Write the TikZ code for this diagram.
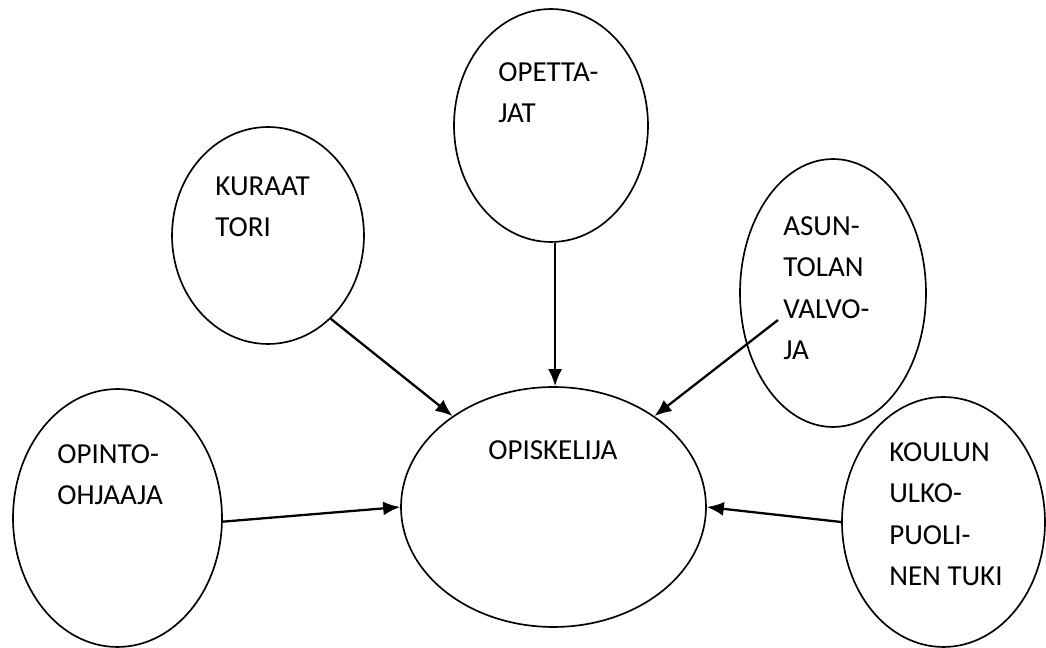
\documentclass[tikz,border=0pt]{standalone}
\usepackage{fontspec}
\setmainfont{Carlito}
\usetikzlibrary{shapes.geometric,arrows.meta}

\begin{document}
\begin{tikzpicture}[x=0.02cm, y=-0.02cm,
    blob/.style 2 args={ellipse, draw, line width=0.95pt, inner sep=0pt, minimum width=#1, minimum height=#2},
    tag/.style={anchor=base west, align=left, inner sep=0pt, font=\fontsize{16.5}{23.7}\selectfont},
    feed/.style={line width=1.3pt, -{Latex[length=3.4mm, width=2.8mm]}}]
  \useasboundingbox (0,0) rectangle (1046,648);

  % ellipses
  \node[blob={6.1cm}{4.8cm}] (opisk) at (553.5,507) {};
  \node[blob={3.84cm}{4.34cm}] (kuraat) at (268,235.5) {};
  \node[blob={3.88cm}{4.66cm}] (opett) at (551,125.5) {};
  \node[blob={3.72cm}{5.36cm}] (asunt) at (833,293) {};
  \node[blob={4.18cm}{5.16cm}] (opinto) at (117.5,518) {};
  \node[blob={4.06cm}{5.0cm}] (koulun) at (943.5,522) {};

  % texts (base = last line)
  \node[tag] (topisk) at (488,460) {OPISKELIJA};
  \node[tag] (tkuraat) at (215,237) {KURAAT\\TORI};
  \node[tag] (topett) at (498,123) {OPETTA-\\JAT};
  \node[tag] (tasunt) at (783,360) {ASUN-\\TOLAN\\VALVO-\\JA};
  \node[tag] (topinto) at (57,505) {OPINTO-\\OHJAAJA};
  \node[tag] (tkoulun) at (889,586) {KOULUN\\ULKO-\\PUOLI-\\NEN TUKI};

  % arrows
  \coordinate (asuntstart) at (778,320);
  \draw[feed] (kuraat.-53) -- (opisk.138.8);
  \draw[feed] (opett.-88) -- (opett.-88 |- opisk.north);
  \draw[feed] (asuntstart) -- (opisk.42.4);
  \draw[feed] (opinto.-2) -- (opisk.west);
  \draw[feed] (koulun.west) -- (opisk.east);
\end{tikzpicture}
\end{document}
